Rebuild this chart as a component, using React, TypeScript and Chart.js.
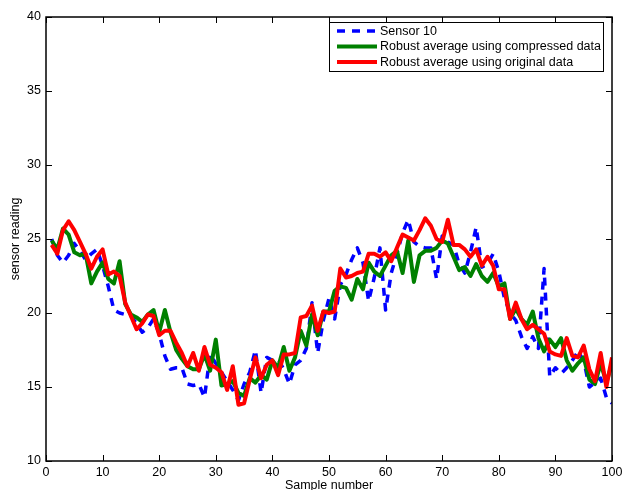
import React, { useEffect, useRef } from "react";
import { Chart, registerables } from "chart.js";

Chart.register(...registerables);

// Sample numbers 1..100 on the x axis
const sampleNumbers: number[] = Array.from({ length: 100 }, (_, k) => k + 1);

// Raw readings of sensor 10
const sensor10: number[] = [
  25.0, 23.9, 23.4, 23.9, 24.7, 24.2, 23.6, 24.0, 24.3, 23.2,
  21.8, 20.2, 20.0, 19.9, 19.8, 19.3, 18.7, 19.0, 19.6, 18.6,
  17.1, 16.2, 16.3, 16.3, 15.2, 15.1, 15.2, 14.3, 17.2, 16.6,
  16.0, 15.4, 14.8, 14.1, 15.2, 16.0, 17.5, 14.6, 17.0, 16.8,
  16.9, 16.2, 15.2, 16.5, 16.8, 17.6, 20.7, 17.3, 19.5, 21.0,
  19.6, 21.9, 22.6, 23.6, 24.4, 23.4, 20.8, 22.4, 24.4, 20.2,
  22.7, 24.0, 25.4, 26.3, 24.8, 24.5, 24.4, 24.4, 22.3, 25.2,
  24.8, 24.6, 23.3, 22.7, 24.1, 25.8, 23.1, 23.3, 24.0, 22.8,
  21.0, 20.0, 19.5, 18.4, 17.6, 18.4, 17.6, 23.0, 15.7, 16.3,
  15.9, 16.3, 16.8, 17.4, 16.8, 15.0, 15.3, 15.6, 14.3, 13.9,
];

// Robust average computed from the compressed data
const robustCompressed: number[] = [
  24.9, 24.3, 25.7, 25.3, 24.1, 23.9, 24.0, 22.0, 22.8, 23.4,
  22.3, 22.0, 23.5, 20.6, 19.9, 19.7, 19.4, 19.9, 20.2, 18.7,
  20.2, 18.7, 17.5, 16.9, 16.4, 16.2, 16.2, 17.2, 16.1, 18.2,
  15.1, 15.2, 15.4, 14.6, 14.4, 15.6, 15.3, 15.8, 15.5, 16.8,
  16.3, 17.7, 16.1, 17.0, 18.8, 17.8, 19.9, 18.5, 20.1, 20.1,
  21.5, 21.8, 21.7, 20.9, 22.3, 21.6, 23.4, 22.8, 22.5, 23.2,
  23.9, 24.2, 22.7, 24.9, 22.1, 23.9, 24.2, 24.2, 24.4, 24.9,
  24.7, 23.8, 22.9, 23.1, 22.5, 23.3, 22.5, 22.1, 22.7, 21.8,
  22.0, 19.6, 20.3, 19.6, 19.2, 20.1, 18.3, 17.4, 18.2, 17.7,
  18.3, 16.8, 16.1, 16.6, 17.0, 15.5, 15.2, 16.6, 15.3, 16.6,
];

// Robust average computed from the original data
const robustOriginal: number[] = [
  24.6, 24.0, 25.6, 26.2, 25.6, 24.8, 24.0, 23.0, 23.8, 24.3,
  22.6, 22.8, 22.5, 20.7, 19.8, 18.9, 19.3, 19.9, 19.8, 18.5,
  18.8, 18.8, 18.0, 17.3, 16.4, 17.3, 16.1, 17.7, 16.5, 16.3,
  16.0, 14.8, 16.4, 13.8, 13.9, 15.5, 17.0, 15.6, 16.5, 16.8,
  15.8, 17.2, 17.2, 17.3, 19.7, 19.8, 20.5, 18.8, 20.1, 20.0,
  20.1, 23.0, 22.4, 22.5, 22.7, 22.8, 24.0, 24.0, 23.8, 24.1,
  23.5, 24.4, 25.3, 25.1, 24.9, 25.6, 26.4, 25.9, 25.0, 24.8,
  26.3, 24.6, 24.6, 24.3, 23.8, 24.3, 23.2, 23.8, 23.2, 21.6,
  21.6, 19.6, 20.7, 19.6, 18.9, 19.2, 18.9, 18.6, 17.4, 17.2,
  17.1, 18.3, 17.1, 17.0, 17.8, 16.2, 15.4, 17.3, 15.0, 17.0,
];

const seriesLabels: string[] = [
  "Sensor 10",
  "Robust average using compressed data",
  "Robust average using original data",
];

const FONT_FAMILY = "'Liberation Sans', Arial, Helvetica, sans-serif";

const toPoints = (ys: number[]) => ys.map((y, k) => ({ x: sampleNumbers[k], y }));

// Boxed axes with inward ticks, axis titles and an in-plot legend
const boxedAxes = {
  id: "boxedAxes",
  afterDraw(chart: any) {
    const { ctx, chartArea } = chart;
    const { left, right, top, bottom } = chartArea;
    const xs = chart.scales.x;
    const ys = chart.scales.y;
    const tickLen = 6;

    ctx.save();
    ctx.strokeStyle = "#000";
    ctx.lineWidth = 1.5;
    ctx.strokeRect(left, top, right - left, bottom - top);

    ctx.lineWidth = 1;
    ctx.beginPath();
    xs.ticks.forEach((t: any) => {
      const px = Math.round(xs.getPixelForValue(t.value)) + 0.5;
      ctx.moveTo(px, bottom);
      ctx.lineTo(px, bottom - tickLen);
      ctx.moveTo(px, top);
      ctx.lineTo(px, top + tickLen);
    });
    ys.ticks.forEach((t: any) => {
      const py = Math.round(ys.getPixelForValue(t.value)) + 0.5;
      ctx.moveTo(left, py);
      ctx.lineTo(left + tickLen, py);
      ctx.moveTo(right, py);
      ctx.lineTo(right - tickLen, py);
    });
    ctx.stroke();

    // axis titles
    ctx.fillStyle = "#000";
    ctx.font = `12.5px ${FONT_FAMILY}`;
    ctx.textAlign = "center";
    ctx.textBaseline = "alphabetic";
    ctx.fillText("Sample number", (left + right) / 2, 489);

    ctx.save();
    ctx.translate(19, (top + bottom) / 2);
    ctx.rotate(-Math.PI / 2);
    ctx.fillText("sensor reading", 0, 0);
    ctx.restore();

    // legend
    const boxX = 329.5;
    const boxY = 22.5;
    const boxW = 274;
    const boxH = 49;
    ctx.fillStyle = "#fff";
    ctx.fillRect(boxX, boxY, boxW, boxH);
    ctx.strokeStyle = "#000";
    ctx.lineWidth = 1;
    ctx.strokeRect(boxX, boxY, boxW, boxH);

    const rowY = [31, 46.5, 62];
    chart.data.datasets.forEach((ds: any, i: number) => {
      const y = rowY[i];
      ctx.save();
      ctx.strokeStyle = ds.borderColor;
      ctx.lineWidth = ds.borderWidth;
      ctx.setLineDash(ds.borderDash || []);
      ctx.beginPath();
      ctx.moveTo(337, y);
      ctx.lineTo(377, y);
      ctx.stroke();
      ctx.restore();
      ctx.fillStyle = "#000";
      ctx.font = `12.5px ${FONT_FAMILY}`;
      ctx.textAlign = "left";
      ctx.textBaseline = "middle";
      ctx.fillText(ds.label, 380, y + 0.5);
    });
    ctx.restore();
  },
};

export default function App() {
  const canvasRef = useRef<HTMLCanvasElement>(null);

  useEffect(() => {
    const canvas = canvasRef.current;
    if (!canvas) return;
    const tickFont = { family: FONT_FAMILY, size: 12.5 };
    const chart = new Chart(canvas, {
      type: "line",
      data: {
        datasets: [
          {
            label: seriesLabels[0],
            data: toPoints(sensor10),
            borderColor: "#0000ff",
            borderWidth: 3.5,
            borderDash: [8, 7],
            borderJoinStyle: "round",
            pointRadius: 0,
            fill: false,
            tension: 0,
            order: 2,
          },
          {
            label: seriesLabels[1],
            data: toPoints(robustCompressed),
            borderColor: "#008000",
            borderWidth: 4,
            borderJoinStyle: "round",
            pointRadius: 0,
            fill: false,
            tension: 0,
            order: 1,
          },
          {
            label: seriesLabels[2],
            data: toPoints(robustOriginal),
            borderColor: "#ff0000",
            borderWidth: 4,
            borderJoinStyle: "round",
            pointRadius: 0,
            fill: false,
            tension: 0,
            order: 0,
          },
        ],
      },
      options: {
        responsive: false,
        animation: false,
        devicePixelRatio: 1,
        events: [],
        layout: { padding: { left: 0, top: 17, right: 11, bottom: 0 } },
        plugins: {
          legend: { display: false },
          tooltip: { enabled: false },
        },
        scales: {
          x: {
            type: "linear",
            min: 0,
            max: 100,
            ticks: {
              stepSize: 10,
              padding: 4,
              color: "#000",
              font: tickFont,
              maxRotation: 0,
              autoSkip: false,
            },
            grid: { display: false, drawTicks: false },
            border: { display: false },
            afterFit(scale: any) {
              scale.height = 29;
              scale.paddingLeft = 0;
              scale.paddingRight = 0;
            },
          },
          y: {
            type: "linear",
            min: 10,
            max: 40,
            ticks: {
              stepSize: 5,
              padding: 5,
              color: "#000",
              font: tickFont,
            },
            grid: { display: false, drawTicks: false },
            border: { display: false },
            afterFit(scale: any) {
              scale.width = 46;
              scale.paddingTop = 0;
              scale.paddingBottom = 0;
            },
          },
        },
      },
      plugins: [boxedAxes],
    });
    return () => chart.destroy();
  }, []);

  return (
    <div
      style={{
        position: "absolute",
        left: 0,
        top: 0,
        width: 623,
        height: 490,
        background: "#fff",
      }}
    >
      <canvas ref={canvasRef} width={623} height={490} style={{ display: "block" }} />
    </div>
  );
}
